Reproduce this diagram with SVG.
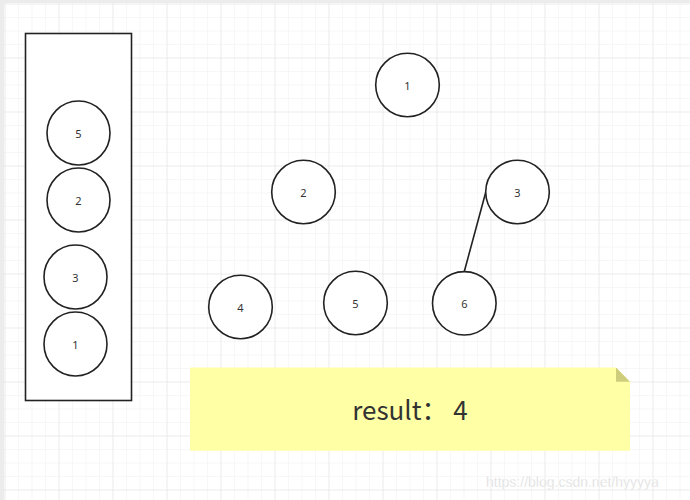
<svg xmlns="http://www.w3.org/2000/svg" width="690" height="500" viewBox="0 0 690 500">
<defs>
<pattern id="minor" x="4.5" y="3.5" width="13.5" height="13.5" patternUnits="userSpaceOnUse">
<path d="M0 0V13.5M0 0H13.5" fill="none" stroke="#efefef" stroke-width="1"/>
</pattern>
<pattern id="major" x="4.5" y="3.5" width="54" height="54" patternUnits="userSpaceOnUse">
<path d="M0 0V54M0 0H54" fill="none" stroke="#e4e4e4" stroke-width="1"/>
</pattern>
</defs>
<style>
.n ellipse{fill:#fff;stroke:#222;stroke-width:1.6}
.n text{font-family:"Noto Sans","Noto Sans CJK SC",sans-serif;font-size:11px;fill:#333;text-anchor:middle;dominant-baseline:central}
.edge{stroke:#222;stroke-width:1.6;fill:none}
.note-text{font-family:"Noto Sans CJK SC","Noto Sans",sans-serif;font-size:26px;fill:#333;text-anchor:middle}
</style>
<rect width="690" height="500" fill="#fff"/>
<rect width="690" height="500" fill="url(#minor)"/>
<rect width="690" height="500" fill="url(#major)"/>
<rect x="0" y="0" width="690" height="3" fill="#ececec"/>
<rect x="0" y="0" width="4" height="500" fill="#ececec"/>
<g id="stack">
<rect x="25.5" y="33.5" width="106" height="367" fill="#fff" stroke="#222" stroke-width="1.6"/>
</g>
<g id="s5" class="n"><ellipse cx="78.5" cy="133" rx="31.5" ry="32"/><text x="78.5" y="133">5</text></g>
<g id="s2" class="n"><ellipse cx="78.5" cy="200" rx="31.5" ry="32"/><text x="78.5" y="200">2</text></g>
<g id="s3" class="n"><ellipse cx="75.5" cy="277" rx="31.5" ry="32"/><text x="75.5" y="277">3</text></g>
<g id="s1" class="n"><ellipse cx="75.5" cy="344" rx="31.5" ry="32"/><text x="75.5" y="344">1</text></g>
<g id="connectors">
<line class="edge" x1="485.8" y1="192" x2="464.3" y2="271.5"/>
</g>
<g id="v1" class="n"><ellipse cx="407.5" cy="85" rx="31.8" ry="31.7"/><text x="407.5" y="85">1</text></g>
<g id="v2" class="n"><ellipse cx="303.5" cy="192" rx="31.8" ry="31.7"/><text x="303.5" y="192">2</text></g>
<g id="v3" class="n"><ellipse cx="517.5" cy="192" rx="31.8" ry="31.7"/><text x="517.5" y="192">3</text></g>
<g id="v4" class="n"><ellipse cx="240.5" cy="307" rx="31.8" ry="31.7"/><text x="240.5" y="307">4</text></g>
<g id="v5" class="n"><ellipse cx="355.5" cy="303" rx="31.8" ry="31.7"/><text x="355.5" y="303">5</text></g>
<g id="v6" class="n"><ellipse cx="464.3" cy="303.3" rx="31.8" ry="31.7"/><text x="464.3" y="303.3">6</text></g>
<g id="note">
<path d="M190 367.5H616L630 381.7V450.7H190Z" fill="#ffffa6"/>
<path d="M616 367.5L630 381.7H616Z" fill="#cdcd7b"/>
<text class="note-text" x="410" y="420">result： 4</text>
</g>
<text x="486" y="487" font-family="Liberation Sans, sans-serif" font-size="14" fill="#dadada" stroke="#fff" stroke-width="0.3">https://blog.csdn.net/hyyyya</text>
</svg>
